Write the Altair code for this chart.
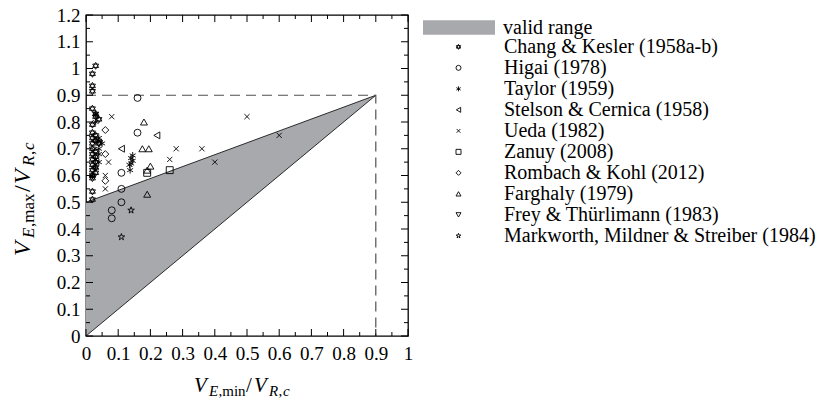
import altair as alt
import pandas as pd

W, H = 322, 321
PL, PT = 86, 15
FONT = "Liberation Serif"

sources = [
    "Chang & Kesler (1958a-b)",
    "Higai (1978)",
    "Taylor (1959)",
    "Stelson & Cernica (1958)",
    "Ueda (1982)",
    "Zanuy (2008)",
    "Rombach & Kohl (2012)",
    "Farghaly (1979)",
    "Frey & Thürlimann (1983)",
    "Markworth, Mildner & Streiber (1984)",
]

chang_x = [0.03, 0.02, 0.02, 0.02, 0.02, 0.03, 0.03, 0.04, 0.02, 0.02, 0.03, 0.02, 0.03, 0.02, 0.04,
           0.02, 0.03, 0.02, 0.03, 0.02, 0.03, 0.02, 0.03, 0.02, 0.03, 0.02, 0.02, 0.02, 0.02]
chang_y = [1.01, 0.98, 0.935, 0.915, 0.85, 0.83, 0.82, 0.81, 0.79, 0.76, 0.75, 0.74, 0.73, 0.72, 0.72,
           0.70, 0.69, 0.68, 0.67, 0.66, 0.65, 0.64, 0.63, 0.62, 0.61, 0.60, 0.59, 0.54, 0.51]
higai_x = [0.16, 0.16, 0.11, 0.11, 0.11, 0.08, 0.08]
higai_y = [0.89, 0.76, 0.61, 0.55, 0.50, 0.47, 0.44]
taylor_x = [0.03, 0.03, 0.04, 0.04, 0.05, 0.04, 0.04, 0.03, 0.04, 0.03, 0.02,
            0.145, 0.14, 0.145, 0.14, 0.135, 0.137]
taylor_y = [0.83, 0.80, 0.74, 0.73, 0.72, 0.70, 0.68, 0.66, 0.65, 0.63, 0.60,
            0.675, 0.665, 0.655, 0.645, 0.64, 0.62]
stelson_x = [0.22, 0.11]
stelson_y = [0.75, 0.70]
ueda_x = [0.08, 0.07, 0.06, 0.06, 0.28, 0.36, 0.26, 0.40, 0.50, 0.60]
ueda_y = [0.82, 0.65, 0.60, 0.55, 0.70, 0.70, 0.66, 0.65, 0.82, 0.75]
zanuy_x = [0.26, 0.19]
zanuy_y = [0.62, 0.61]
rombach_x = [0.06, 0.06, 0.06]
rombach_y = [0.77, 0.68, 0.58]
farghaly_x = [0.18, 0.175, 0.195, 0.20, 0.19, 0.19]
farghaly_y = [0.80, 0.70, 0.70, 0.635, 0.62, 0.53]
frey_x = [0.04]
frey_y = [0.72]
markworth_x = [0.14, 0.11]
markworth_y = [0.47, 0.37]

series = [
    (chang_x, chang_y), (higai_x, higai_y), (taylor_x, taylor_y), (stelson_x, stelson_y),
    (ueda_x, ueda_y), (zanuy_x, zanuy_y), (rombach_x, rombach_y), (farghaly_x, farghaly_y),
    (frey_x, frey_y), (markworth_x, markworth_y),
]
rows = []
for name, (xs, ys) in zip(sources, series):
    for a, b in zip(xs, ys):
        rows.append({"source": name, "x": a, "y": b})
pts = pd.DataFrame(rows)

# valid range polygon: (0,0) - (0,0.5) - (0.9,0.9)
region_x = [0.0, 0.9]
region_lo = [0.0, 0.9]
region_hi = [0.5, 0.9]
region = pd.DataFrame({"x": region_x, "lo": region_lo, "hi": region_hi, "label": ["valid range"] * 2})
edges = pd.DataFrame({"x": [0.0, 0.9, 0.0, 0.9], "y": [0.5, 0.9, 0.0, 0.9], "e": ["u", "u", "l", "l"]})
dash = pd.DataFrame({"x": [0.0, 0.9, 0.9], "y": [0.9, 0.9, 0.0], "o": [0, 1, 2]})

x_labels = [round(i * 0.1, 1) for i in range(11)]
y_labels = [round(i * 0.1, 1) for i in range(13)]
x_minor = [round(0.05 + i * 0.1, 2) for i in range(10)]
y_minor = [round(0.05 + i * 0.1, 2) for i in range(12)]

STAR6 = "M0,-1L0.866,0.5L-0.866,0.5Z M0,1L-0.866,-0.5L0.866,-0.5Z"
ASTER = "M0,-1L0,1M-0.866,-0.5L0.866,0.5M-0.866,0.5L0.866,-0.5"
CROSS = "M-0.75,-0.75L0.75,0.75M-0.75,0.75L0.75,-0.75"
STAR5 = ("M0,-1L0.223,-0.307L0.951,-0.309L0.361,0.117L0.588,0.809L0,0.38L-0.588,0.809"
         "L-0.361,0.117L-0.951,-0.309L-0.223,-0.307Z")
shapes = [STAR6, "circle", ASTER, "triangle-left", CROSS, "square", "diamond",
          "triangle-up", "triangle-down", STAR5]

xsc = alt.Scale(domain=[0, 1], nice=False, zero=False)
ysc = alt.Scale(domain=[0, 1.2], nice=False, zero=False)

x_axis = alt.Axis(values=x_labels, format="~g", ticks=False, tickSize=0, domain=False, grid=False,
                  labelFont=FONT, labelFontSize=19, labelColor="black", labelPadding=8,
                  labelFlush=False, labelOverlap=False, title=None)
y_axis = alt.Axis(values=y_labels, format="~g", ticks=False, tickSize=0, domain=False, grid=False,
                  labelFont=FONT, labelFontSize=19, labelColor="black", labelPadding=6,
                  labelFlush=False, labelOverlap=False, title=None)


def X(field):
    return alt.X(field, scale=xsc, axis=x_axis, title=None)


def Y(field):
    return alt.Y(field, scale=ysc, axis=y_axis, title=None)


area = alt.Chart(region).mark_area(opacity=1).encode(
    x=X("x:Q"),
    y=Y("lo:Q"),
    y2="hi:Q",
    color=alt.Color(
        "label:N",
        scale=alt.Scale(domain=["valid range"], range=["#a8a9ad"]),
        legend=alt.Legend(title=None, orient="none", legendX=337, legendY=-23.5,
                          symbolType="M-1,-0.2H1V0.2H-1Z", symbolSize=5184, symbolStrokeWidth=0,
                          symbolOpacity=1, labelFont=FONT, labelFontSize=20, labelColor="black",
                          labelOffset=8, padding=0),
    ),
)

edge = alt.Chart(edges).mark_line(color="black", strokeWidth=0.8).encode(
    x=X("x:Q"), y=Y("y:Q"), detail="e:N",
)

dashed = alt.Chart(dash).mark_line(color="#505050", strokeWidth=1.2, strokeDash=[10, 6]).encode(
    x=X("x:Q"), y=Y("y:Q"), order="o:Q",
)


def xrule(vals, y0, y1):
    return alt.Chart(pd.DataFrame({"v": vals})).mark_rule(color="black", strokeWidth=1).encode(
        x=X("v:Q"), y=alt.value(y0), y2=alt.value(y1))


def yrule(vals, x0, x1):
    return alt.Chart(pd.DataFrame({"v": vals})).mark_rule(color="black", strokeWidth=1).encode(
        y=Y("v:Q"), x=alt.value(x0), x2=alt.value(x1))


MJ, MN = 7, 4
ticks = [
    xrule(x_labels, H, H - MJ), xrule(x_minor, H, H - MN),
    xrule(x_labels, 0, MJ), xrule(x_minor, 0, MN),
    yrule(y_labels, 0, MJ), yrule(y_minor, 0, MN),
    yrule(y_labels, W, W - MJ), yrule(y_minor, W, W - MN),
]

points = alt.Chart(pts).mark_point(filled=False, size=48, strokeWidth=0.9, color="black", opacity=1).encode(
    x=X("x:Q"),
    y=Y("y:Q"),
    shape=alt.Shape(
        "source:N",
        scale=alt.Scale(domain=sources, range=shapes),
        legend=alt.Legend(title=None, orient="none", legendX=362.5, legendY=23,
                          symbolSize=25, symbolStrokeColor="black", symbolStrokeWidth=0.9,
                          symbolFillColor="transparent", labelOffset=35.5, rowPadding=0,
                          clipHeight=17.7,
                          labelFont=FONT, labelFontSize=20, labelColor="black", labelLimit=500,
                          padding=0),
    ),
)


def piece(txt, ax, ay, size, italic, angle=0):
    kw = dict(text=txt, font=FONT, fontSize=size, align="left", baseline="alphabetic", color="black")
    if italic:
        kw["fontStyle"] = "italic"
    if angle:
        kw["angle"] = angle
    return alt.Chart(alt.Data(values=[{}])).mark_text(**kw).encode(
        x=alt.value(ax - PL), y=alt.value(ay - PT))


# x title  V_{E,min}/V_{R,c}
MS, SS = 21, 15
bx, sb = 392, 396
xt = [
    piece("V", 194, bx, MS, True),
    piece("E", 209, sb, SS, True),
    piece(",min", 218.5, sb, SS, False),
    piece("/", 246, bx, MS, False),
    piece("V", 254, bx, MS, True),
    piece("R", 269, sb, SS, True),
    piece(",", 278.5, sb, SS, False),
    piece("c", 283, sb, SS, True),
]
# y title  V_{E,max}/V_{R,c}, rotated
YM, YS = 24, 17
by, syb = 30, 34
dy0 = 6
yt = [
    piece("V", by, 250 + dy0, YM, True, 270),
    piece("E", syb, 232 + dy0, YS, True, 270),
    piece(",max", syb, 221 + dy0, YS, False, 270),
    piece("/", by, 186 + dy0, YM, False, 270),
    piece("V", by, 178 + dy0, YM, True, 270),
    piece("R", syb, 160 + dy0, YS, True, 270),
    piece(",", syb, 149 + dy0, YS, False, 270),
    piece("c", syb, 144 + dy0, YS, True, 270),
]

chart = alt.layer(area, edge, dashed, *ticks, points, *xt, *yt).properties(
    width=W, height=H,
    autosize=alt.AutoSizeParams(type="none"),
    padding={"left": PL, "top": PT, "right": 824 - PL - W, "bottom": 399 - PT - H},
).configure_view(stroke="black", strokeWidth=1.3)

chart.save("out.html", embed_options={"renderer": "svg", "actions": False})
